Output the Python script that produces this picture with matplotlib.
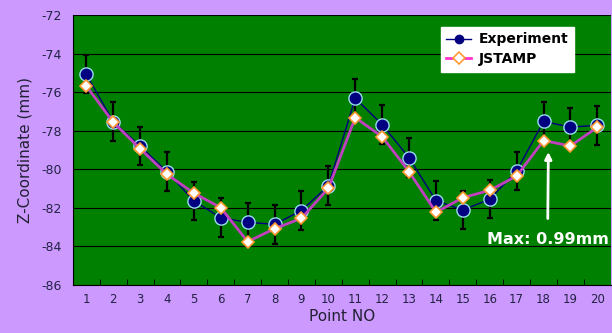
import numpy as np
import matplotlib
matplotlib.use('Agg')
import matplotlib.pyplot as plt
from matplotlib.ticker import FixedLocator

plt.rcParams['axes.unicode_minus'] = False

points = list(range(1, 21))
experiment = [-75.07, -77.53, -78.79, -80.12, -81.64, -82.51, -82.75, -82.85, -82.14, -80.85,
              -76.32, -77.68, -79.40, -81.62, -82.11, -81.55, -80.09, -77.52, -77.81, -77.72]
jstamp = [-75.68, -77.56, -78.93, -80.26, -81.23, -81.99, -83.75, -83.08, -82.54, -80.99,
          -77.32, -78.31, -80.12, -82.23, -81.47, -81.09, -80.35, -78.51, -78.79, -77.82]
exp_err = [1.0] * 20
yticks = [-72, -74, -76, -78, -80, -82, -84, -86]

bg = '#cc99ff'
fig = plt.figure(figsize=(6.12, 3.33), dpi=100, facecolor=bg)
ax = fig.add_axes([0.119, 0.144, 0.879, 0.811])
ax.set_facecolor('#008000')

for y in yticks:
    ax.axhline(y, color='black', lw=0.8, zorder=1)

ax.errorbar(points, experiment, yerr=exp_err, fmt='none', ecolor='black',
            elinewidth=1.6, capsize=2.5, capthick=1.6, zorder=2)
ax.plot(points, experiment, color='#007878', lw=1, marker='o', ms=9.5,
        mfc='#000080', mec='#99ddee', mew=1, label='Experiment', zorder=3)
ax.plot(points, jstamp, color='#c040c0', lw=2, marker='D', ms=6.5,
        mfc='white', mec='#ff9933', mew=1.2, label='JSTAMP', zorder=4)

ax.set_xlim(0.5, 20.5)
ax.set_ylim(-86, -72)
ax.set_xticks(points)
ax.set_yticks(yticks)
ax.xaxis.set_minor_locator(FixedLocator(np.arange(1.5, 20.5, 1)))
ax.tick_params(axis='x', which='major', length=0, pad=6, labelsize=8.5, labelcolor='#222244')
ax.tick_params(axis='x', which='minor', length=4, direction='in', color='black')
ax.tick_params(axis='y', length=0, pad=8, labelsize=9, labelcolor='#222244')

for s in ['top', 'right']:
    ax.spines[s].set_visible(False)
ax.spines['left'].set_color('black')
ax.spines['bottom'].set_color('black')

ax.set_ylabel('Z-Coordinate (mm)', fontsize=11, color='#222233', labelpad=6)
ax.set_xlabel('Point NO', fontsize=11, color='#222233', labelpad=2)

handles, labels = ax.get_legend_handles_labels()
handles[0].set_color('#000080')
leg = ax.legend(loc='upper right', bbox_to_anchor=(0.931, 0.956), borderaxespad=0,
                frameon=True, fancybox=False, edgecolor='white', facecolor='white',
                framealpha=1, prop={'weight': 'bold', 'size': 10}, handlelength=1.8,
                borderpad=0.4, labelspacing=0.4, handletextpad=0.5)
leg.get_lines()[0].set_color('#000080')
leg.get_lines()[0].set_markeredgecolor('#000080')
leg.get_lines()[0].set_markersize(6)
leg.get_lines()[1].set_color('#ff33cc')

ax.annotate('Max: 0.99mm', xy=(18.18, -79.1), xytext=(18.15, -83.66),
            ha='center', va='center', color='white', fontsize=11.5, fontweight='bold',
            arrowprops=dict(arrowstyle='-|>', color='white', lw=2, shrinkB=0,
                            shrinkA=8, mutation_scale=10))

fig.savefig('out.png', dpi=100, facecolor=bg)
